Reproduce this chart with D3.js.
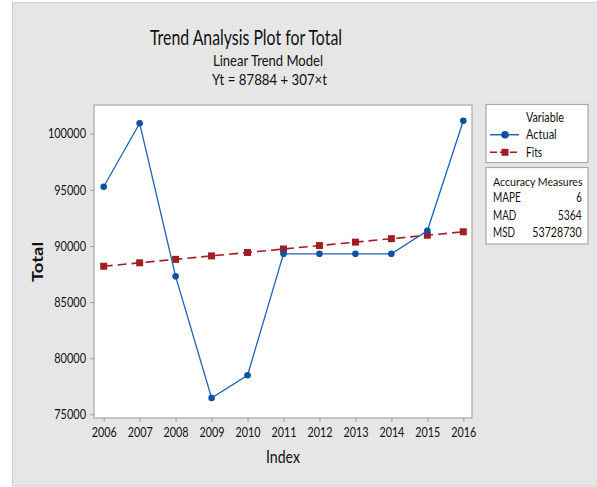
<!DOCTYPE html>
<html><head><meta charset="utf-8">
<script src="https://cdn.jsdelivr.net/npm/d3@7"></script>
<style>
html,body{margin:0;padding:0;background:#fff;}
svg{display:block;}
text{font-family:Lato,"Open Sans",sans-serif;fill:#111;}
</style></head>
<body>
<script>
const years = [2006,2007,2008,2009,2010,2011,2012,2013,2014,2015,2016];
const actual = [95280,100930,87290,76450,78480,89300,89300,89300,89300,91350,101160];
const fits = [88191,88498,88805,89112,89419,89726,90033,90340,90647,90954,91261];
const yTicks = [75000,80000,85000,90000,95000,100000];
const titleLines = ["Trend Analysis Plot for Total","Linear Trend Model","Yt = 87884 + 307×t"];
const legendItems = ["Actual","Fits"];
const measureNames = ["MAPE","MAD","MSD"];
const measureValues = ["6","5364","53728730"];

const W = 597, H = 487;
const svg = d3.select("body").append("svg").attr("width",W).attr("height",H);

function fit(sel, w){ return sel.attr("textLength",w).attr("lengthAdjust","spacingAndGlyphs"); }

// background panel
svg.append("rect").attr("x",12.5).attr("y",2.5).attr("width",W-12).attr("height",483.5)
  .attr("fill","#e6e6e6").attr("stroke","#cfcfcf");

const pl = 94, pr = 472, pt = 105, pb = 418;
const x = d3.scalePoint().domain(years).range([103.7,463.3]);
const y = d3.scaleLinear().domain([74670,102560]).range([pb,pt]);

svg.append("rect").attr("x",pl).attr("y",pt).attr("width",pr-pl).attr("height",pb-pt)
  .attr("fill","#fff").attr("stroke","#a8a8a8").attr("stroke-width",1.2);

// axes
const yAxis = svg.append("g").attr("transform",`translate(${pl},0)`)
  .call(d3.axisLeft(y).tickValues(yTicks).tickSize(4).tickPadding(4).tickFormat(d3.format("d")));
const xAxis = svg.append("g").attr("transform",`translate(0,${pb})`)
  .call(d3.axisBottom(x).tickSize(4).tickPadding(6));
[yAxis,xAxis].forEach(a=>{
  a.select(".domain").remove();
  a.selectAll(".tick line").attr("stroke","#a8a8a8").attr("stroke-width",1.2);
  a.selectAll(".tick text").attr("font-family","Lato,sans-serif")
   .attr("font-size",13).attr("fill","#111");
});
yAxis.selectAll(".tick text").each(function(d){ fit(d3.select(this), String(d).length*6.35); });
xAxis.selectAll(".tick text").each(function(d){ fit(d3.select(this), 25); });

// titles
fit(svg.append("text").attr("x",150).attr("y",45).attr("font-size",22).text(titleLines[0]),192);
fit(svg.append("text").attr("x",213).attr("y",66).attr("font-size",15).text(titleLines[1]),110);
fit(svg.append("text").attr("x",212).attr("y",85).attr("font-size",15).text(titleLines[2]),115);

// axis titles
fit(svg.append("text").attr("transform","translate(43,282) rotate(-90)")
  .attr("font-family","DejaVu Sans").attr("font-weight","bold").attr("font-size",15).text("Total"),40);
fit(svg.append("text").attr("x",266).attr("y",463).attr("font-size",18).text("Index"),34);

const blue = "#1f63b5", blueDot = "#0d52a6", red = "#a11d22";

// fits line
svg.append("path").datum(fits)
  .attr("d",d3.line().x((d,i)=>x(years[i])).y(d=>y(d)))
  .attr("fill","none").attr("stroke",red).attr("stroke-width",1.6).attr("stroke-dasharray","9,5");
svg.selectAll(".fitpt").data(fits).join("rect")
  .attr("x",(d,i)=>x(years[i])-3.5).attr("y",d=>y(d)-3.5).attr("width",7).attr("height",7).attr("fill",red);

// actual line
svg.append("path").datum(actual)
  .attr("d",d3.line().x((d,i)=>x(years[i])).y(d=>y(d)))
  .attr("fill","none").attr("stroke",blue).attr("stroke-width",1.3);
svg.selectAll(".actpt").data(actual).join("circle")
  .attr("cx",(d,i)=>x(years[i])).attr("cy",d=>y(d)).attr("r",3.3).attr("fill",blueDot);

// legend box
svg.append("rect").attr("x",486).attr("y",104.5).attr("width",102).attr("height",58)
  .attr("fill","#fff").attr("stroke","#a8a8a8").attr("stroke-width",1.2);
fit(svg.append("text").attr("x",526).attr("y",121.7).attr("font-size",12.5).text("Variable"),38);
const lg = [{name:legendItems[0],c:blue,y:134.7,shape:"circle",dash:null,w:30.7,by:139},
            {name:legendItems[1],c:red,y:152.3,shape:"rect",dash:"7,3",w:16.3,by:156.7}];
lg.forEach(it=>{
  svg.append("line").attr("x1",490).attr("x2",519).attr("y1",it.y).attr("y2",it.y)
    .attr("stroke",it.c).attr("stroke-width",1.5).attr("stroke-dasharray",it.dash);
  if(it.shape==="circle") svg.append("circle").attr("cx",505).attr("cy",it.y).attr("r",3.8).attr("fill",blueDot);
  else svg.append("rect").attr("x",501.5).attr("y",it.y-3.5).attr("width",7).attr("height",7).attr("fill",it.c);
  fit(svg.append("text").attr("x",526).attr("y",it.by).attr("font-size",12.5).text(it.name),it.w);
});

// accuracy box
svg.append("rect").attr("x",486).attr("y",167.5).attr("width",102).attr("height",76.5)
  .attr("fill","#fff").attr("stroke","#a8a8a8").attr("stroke-width",1.2);
fit(svg.append("text").attr("x",493).attr("y",186).attr("font-size",11.8).text("Accuracy Measures"),89.5);
const nameW = [27.7,23.3,22];
const valW = {"6":5.5,"5364":24,"53728730":49.4};
const rowY = [202.3,220,236.7];
measureNames.forEach((m,i)=>{
  fit(svg.append("text").attr("x",493).attr("y",rowY[i]).attr("font-size",12.5).text(m),nameW[i]);
  const v = measureValues[i], w = valW[v] || v.length*6.2;
  fit(svg.append("text").attr("x",581.7-w).attr("y",rowY[i]).attr("font-size",12.5).text(v),w);
});
</script>
</body></html>
